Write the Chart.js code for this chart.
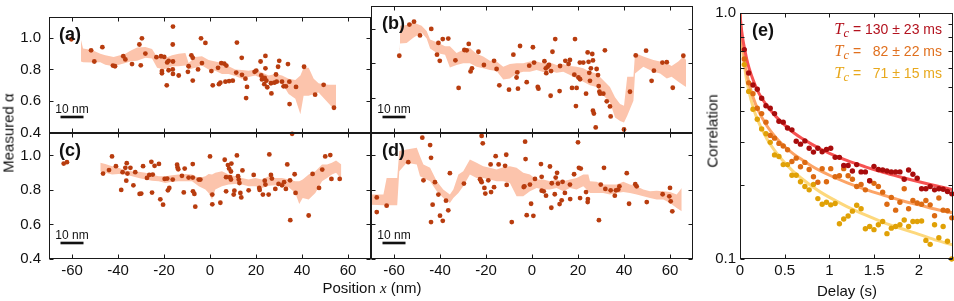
<!DOCTYPE html>
<html>
<head>
<meta charset="utf-8">
<script src="https://cdn.jsdelivr.net/npm/chart.js@4.4.1/dist/chart.umd.min.js"></script>
<style>
  body { margin: 0; background: #fff; }
  #fig { position: relative; width: 954px; height: 301px; overflow: hidden; font-family: "Liberation Sans", Arial, sans-serif; color: #111; }
  #fig canvas { position: absolute; left: 0; top: 0; }
  .lbl { position: absolute; font-size: 15px; white-space: nowrap; transform: translate(-50%, -50%); }
  .rot { transform: translate(-50%, -50%) rotate(-90deg); }
  .math { font-family: "Liberation Serif", "DejaVu Serif", serif; font-style: italic; }
  #legend { position: absolute; right: 12px; top: 18px; text-align: right; font-size: 14px; line-height: 21px; white-space: nowrap; }
  #legend .tc { font-size: 16.5px; }
  #legend sub { font-size: 12.5px; line-height: 0; vertical-align: -3px; }
</style>
</head>
<body>
<div id="fig">
  <canvas id="pa" width="954" height="301"></canvas>
  <canvas id="pb" width="954" height="301"></canvas>
  <canvas id="pc" width="954" height="301"></canvas>
  <canvas id="pd" width="954" height="301"></canvas>
  <canvas id="pe" width="954" height="301"></canvas>
  <div class="lbl rot" style="left:8px; top:133px">Measured α</div>
  <div class="lbl" style="left:372px; top:288px">Position <span class="math">x</span> (nm)</div>
  <div class="lbl rot" style="left:712px; top:131px">Correlation</div>
  <div class="lbl" style="left:847px; top:290px">Delay (s)</div>
  <div id="legend">
    <div style="color:#b3121e"><span class="math tc">T<sub>c</sub></span> = 130 ± 23 ms</div>
    <div style="color:#e0701e"><span class="math tc">T<sub>c</sub></span> = &#8199;82 ± 22 ms</div>
    <div style="color:#e8a81c"><span class="math tc">T<sub>c</sub></span> = &#8199;71 ± 15 ms</div>
  </div>
</div>
<script>
// tick values
const posTicks = [-60, -40, -20, 0, 20, 40, 60];
const alphaTicks = [0.4, 0.6, 0.8, 1.0];
const delayTicks = [0, 0.5, 1, 1.5, 2];
const corrTicks = [0.1, 0.2, 0.3, 0.4, 0.5, 0.6, 0.7, 0.8, 0.9, 1.0];

// (a)
const aX = [-60.3,-51.7,-50.3,-46.8,-42.2,-41.3,-37.7,-36.8,-33.9,-30.7,-29.6,-30.1,-28.1,-23.3,-21.3,-19.9,-20.9,-20.9,-18.8,-18.6,-18.0,-16.1,-16.2,-16.1,-16.2,-16.1,-18.0,-13.6,-9.3,-9.6,-8.1,-7.5,-7.5,-5.2,-3.9,-2.0,-3.5,0.6,1.2,3.5,4.9,6.2,7.1,3.9,4.5,6.7,8.3,9.9,11.7,11.4,13.8,13.9,15.4,16.1,15.7,19.4,20.1,22.0,22.3,22.6,23.6,24.1,24.1,23.8,24.5,24.9,26.7,26.5,28.0,28.7,29.0,29.6,30.1,31.3,32.0,33.0,33.9,34.5,34.6,35.7,37.4,40.9,45.7,49.4,53.9];
const aY = [0.99,0.92,0.85,0.94,0.824,0.82,0.883,0.863,0.834,0.957,0.996,0.826,0.90,0.877,0.883,0.879,0.79,0.776,0.70,0.844,0.854,1.07,0.957,0.85,0.80,0.772,0.795,0.762,0.82,0.785,0.889,0.873,0.73,0.80,0.996,0.967,0.84,0.79,0.70,0.81,0.84,0.836,0.824,0.707,0.717,0.723,0.727,0.729,0.969,0.78,0.873,0.766,0.742,0.69,0.62,0.785,0.793,0.85,0.762,0.737,0.707,0.885,0.807,0.746,0.729,0.688,0.649,0.713,0.717,0.768,0.723,0.817,0.854,0.723,0.694,0.694,0.834,0.723,0.582,0.395,0.69,0.817,0.641,0.703,0.559];
const aBandX = [-56.1,-55.2,-51.3,-47.7,-45.5,-41.9,-36.8,-34.6,-31.7,-28.1,-25.2,-23.0,-20.1,-16.5,-13.6,-10.7,-9.3,-6.4,-3.5,-0.6,2.3,5.2,8.1,11.0,13.9,16.8,19.7,22.6,25.5,28.4,31.3,34.2,37.1,39.3,40.7,42.9,45.1,47.2,49.4,51.6,53.8,54.8];
const aBandHi = [0.986,0.932,0.922,0.899,0.889,0.879,0.899,0.918,0.938,0.941,0.928,0.879,0.869,0.889,0.899,0.904,0.84,0.879,0.883,0.86,0.85,0.84,0.82,0.80,0.797,0.791,0.80,0.781,0.762,0.772,0.762,0.742,0.733,0.762,0.81,0.81,0.742,0.713,0.707,0.703,0.703,0.703];
const aBandLo = [0.85,0.846,0.844,0.846,0.83,0.82,0.84,0.85,0.854,0.873,0.869,0.81,0.80,0.82,0.82,0.824,0.80,0.81,0.824,0.80,0.791,0.772,0.772,0.758,0.742,0.752,0.762,0.742,0.723,0.717,0.713,0.645,0.616,0.518,0.635,0.635,0.645,0.655,0.621,0.586,0.551,0.551];

// (b)
const bX = [-57.7,-53.3,-51.3,-48.7,-43.8,-40.7,-38.8,-36.4,-41.3,-40.1,-33.3,-31.9,-29.4,-28.4,-27.5,-26.7,-26.1,-23.3,-20.9,-16.5,-15.4,-14.2,-10.0,-8.1,-6.7,-6.4,-6.1,-5.2,-2.3,-1.2,0.4,0.9,2.5,2.8,5.4,6.0,6.2,6.8,7.4,8.1,8.9,8.3,10.1,12.0,12.2,14.5,15.9,16.5,17.4,18.7,18.4,19.1,19.4,20.2,20.8,20.9,22.3,23.5,24.2,24.6,24.9,25.2,25.6,26.2,26.5,26.5,26.9,27.7,28.1,28.7,29.0,29.3,29.6,31.0,31.7,32.5,33.9,34.2,40.0,42.6,45.1,49.6,52.0,53.0,56.7,58.6,61.2,65.8];
const bY = [0.844,1.023,1.04,0.961,0.998,0.918,0.94,0.943,0.85,0.815,0.818,0.659,0.877,0.875,0.912,0.754,0.772,0.867,0.791,0.815,0.768,0.674,0.649,0.85,0.719,0.748,0.655,0.90,0.692,0.787,0.893,0.805,0.665,0.655,0.813,0.772,0.744,0.781,0.791,0.614,0.867,0.756,0.94,0.641,0.785,0.815,0.797,0.82,0.659,0.94,0.735,0.555,0.659,0.719,0.805,0.709,0.805,0.626,0.863,0.809,0.746,0.70,0.772,0.854,0.817,0.528,0.512,0.432,0.768,0.733,0.67,0.637,0.626,0.626,0.875,0.582,0.553,0.495,0.42,0.637,0.846,0.873,0.70,0.758,0.805,0.807,0.66,0.844];
const bBandX = [-57.7,-57.4,-54.5,-51.6,-48.0,-45.8,-44.3,-41.4,-37.8,-35.7,-32.8,-29.9,-27.0,-24.1,-21.2,-18.3,-15.4,-12.5,-9.6,-6.7,-3.8,-0.9,2.0,4.9,7.8,10.7,13.6,16.5,19.4,22.3,25.2,28.1,31.0,33.9,36.1,38.3,40.0,41.4,44.1,44.8,48.4,52.8,55.7,58.6,60.7,63.6,65.8,67.0];
const bBandHi = [0.889,1.016,1.021,1.035,1.016,0.986,0.938,0.922,0.899,0.899,0.86,0.879,0.889,0.856,0.84,0.815,0.811,0.781,0.797,0.801,0.801,0.811,0.811,0.801,0.805,0.791,0.797,0.785,0.781,0.772,0.752,0.742,0.703,0.664,0.606,0.567,0.557,0.723,0.723,0.86,0.84,0.82,0.811,0.801,0.785,0.811,0.84,0.82];
const bBandLo = [0.844,0.914,0.918,0.947,0.977,0.943,0.885,0.86,0.85,0.776,0.791,0.801,0.801,0.781,0.772,0.762,0.756,0.707,0.713,0.742,0.752,0.752,0.762,0.75,0.756,0.746,0.752,0.733,0.713,0.694,0.674,0.664,0.616,0.577,0.489,0.469,0.46,0.499,0.586,0.742,0.781,0.752,0.742,0.713,0.723,0.694,0.674,0.664];

// (c)
const cX = [-63.6,-62.2,-46.5,-43.9,-42.6,-40.9,-38.6,-38.0,-36.8,-36.2,-35.9,-36.4,-34.6,-33.3,-32.5,-30.6,-29.9,-29.1,-27.4,-26.4,-25.5,-25.2,-24.9,-24.1,-22.2,-21.6,-20.4,-19.7,-18.6,-18.3,-17.7,-16.2,-14.3,-14.1,-13.8,-12.2,-11.4,-11.0,-9.3,-7.5,-7.4,-7.5,-6.8,-6.4,-4.9,-4.2,0.0,1.0,1.0,4.5,6.4,7.0,7.0,7.8,8.3,8.7,9.1,9.3,9.1,10.3,10.6,11.7,12.2,12.5,12.8,13.2,13.6,14.1,16.8,19.0,21.4,21.6,23.0,23.8,24.1,25.5,25.8,26.5,26.9,28.4,29.8,31.3,32.2,33.0,33.6,34.8,34.9,36.8,37.2,42.9,44.6,47.4,48.8,50.1,52.3,52.8,56.4];
const cY = [0.953,0.961,0.895,0.915,0.994,0.938,0.80,0.903,0.928,0.955,0.895,0.854,0.928,0.827,0.903,0.777,0.779,0.938,0.87,0.887,0.963,0.785,0.889,0.94,0.951,0.746,0.715,0.864,0.866,0.798,0.812,0.86,0.946,0.93,0.92,0.882,0.786,0.924,0.872,0.95,0.792,0.872,0.777,0.703,0.86,0.86,0.994,0.773,0.717,0.726,0.975,0.874,0.792,0.944,0.924,0.874,0.907,0.953,0.86,0.773,0.796,1.0,0.88,0.86,0.84,0.783,0.757,0.913,0.798,0.887,0.812,0.80,0.773,0.854,0.831,0.773,1.006,0.887,0.866,0.806,0.835,0.827,0.845,0.806,0.948,0.856,0.625,0.891,0.783,0.652,0.893,0.812,0.918,0.994,1.002,0.864,0.864];
const cBandX = [-47.7,-45.5,-42.6,-39.7,-36.8,-33.9,-31.0,-28.1,-25.2,-22.3,-19.4,-16.5,-13.6,-10.7,-7.8,-4.9,-2.0,-0.6,0.9,2.3,5.2,8.1,11.0,13.9,16.8,19.7,22.6,25.5,28.4,31.3,34.2,37.1,38.8,40.3,42.9,45.8,48.7,50.9,53.0,54.8,57.1];
const cBandHi = [0.957,0.951,0.938,0.928,0.913,0.909,0.905,0.899,0.889,0.88,0.88,0.885,0.889,0.893,0.889,0.87,0.88,0.893,0.889,0.899,0.909,0.889,0.88,0.87,0.86,0.87,0.86,0.88,0.87,0.87,0.86,0.85,0.85,0.86,0.889,0.909,0.948,0.948,0.957,0.971,0.948];
const cBandLo = [0.909,0.899,0.889,0.893,0.889,0.88,0.87,0.86,0.854,0.85,0.841,0.847,0.85,0.85,0.85,0.821,0.802,0.783,0.744,0.802,0.821,0.831,0.835,0.831,0.821,0.821,0.812,0.825,0.827,0.821,0.816,0.783,0.718,0.753,0.744,0.783,0.85,0.87,0.889,0.899,0.864];

// (d)
const dX = [-67.5,-67.5,-63.2,-53.8,-47.7,-47.2,-44.3,-43.9,-43.9,-43.2,-42.2,-40.7,-40.0,-38.8,-37.4,-36.4,-35.7,-29.6,-22.6,-22.2,-21.9,-21.4,-21.9,-20.7,-20.3,-19.0,-18.0,-17.8,-16.5,-15.8,-14.5,-11.7,-11.2,-11.0,-8.8,-3.6,-3.3,-3.0,-2.8,-2.3,-0.9,-0.4,0.6,1.3,3.9,4.2,4.2,5.1,6.1,7.8,8.6,8.4,9.9,10.3,10.9,11.3,12.0,12.9,13.3,14.3,16.5,16.6,18.3,20.0,20.4,21.2,20.9,23.5,24.3,24.2,29.1,29.9,31.3,31.9,34.2,36.0,36.5,37.5,38.0,41.2,42.2,44.9,45.5,49.9,56.8,59.7,60.0,60.3,61.0];
const dY = [0.757,0.672,0.709,0.961,1.103,0.856,1.06,0.986,0.614,0.715,0.845,0.773,0.651,0.621,0.738,0.682,0.897,0.837,0.862,0.854,1.113,1.07,0.845,0.812,0.779,0.856,0.948,0.788,0.816,0.996,0.948,0.94,1.004,0.829,0.614,0.817,0.821,1.08,0.979,0.654,0.831,0.72,0.65,0.864,0.95,0.876,0.796,0.792,0.767,0.936,0.839,0.697,0.775,0.872,0.899,0.837,0.718,0.74,0.847,0.783,0.831,0.747,0.891,1.076,0.928,0.924,0.753,0.788,0.747,0.73,0.625,0.831,0.928,0.806,0.798,0.767,0.798,0.802,0.821,0.897,0.72,0.833,0.821,0.73,0.775,0.763,0.812,0.734,0.676];
const dBandX = [-70,-64.6,-63.2,-58.6,-57.7,-54.5,-50.1,-48.7,-47.2,-44.3,-41.4,-38.6,-35.7,-34.2,-32.0,-29.9,-27.0,-24.1,-21.2,-18.3,-15.4,-12.5,-9.6,-6.7,-3.8,-0.9,2.0,4.9,7.8,10.7,13.6,16.5,19.4,22.3,24.5,25.2,28.1,31.0,33.9,36.8,39.7,42.6,45.5,48.4,51.3,54.2,57.1,60.0,62.9,65.1];
const dBandHi = [0.773,0.773,0.87,0.87,1.025,1.035,1.045,0.996,0.948,0.928,0.85,0.802,0.773,0.802,0.889,0.909,0.977,0.957,0.938,0.928,0.918,0.932,0.938,0.928,0.899,0.889,0.86,0.86,0.85,0.86,0.85,0.86,0.87,0.889,0.889,0.85,0.847,0.831,0.831,0.831,0.847,0.831,0.821,0.802,0.792,0.796,0.792,0.788,0.773,0.812];
const dBandLo = [0.715,0.711,0.711,0.711,0.909,0.957,0.948,0.88,0.87,0.85,0.792,0.753,0.724,0.753,0.783,0.821,0.889,0.87,0.87,0.86,0.85,0.85,0.841,0.763,0.763,0.792,0.812,0.802,0.802,0.812,0.792,0.812,0.802,0.821,0.792,0.783,0.783,0.783,0.773,0.783,0.788,0.783,0.773,0.763,0.753,0.744,0.744,0.724,0.695,0.676];

// (e) correlation vs delay
const delays = [0.048,0.097,0.145,0.193,0.242,0.290,0.338,0.386,0.435,0.483,0.531,0.580,0.628,0.676,0.725,0.773,0.821,0.870,0.918,0.966,1.014,1.063,1.111,1.159,1.208,1.256,1.304,1.353,1.401,1.449,1.497,1.546,1.594,1.642,1.691,1.739,1.787,1.835,1.884,1.932,1.980,2.029,2.077,2.125,2.174,2.222,2.270,2.318,2.367];
const corr130 = [0.71,0.57,0.51,0.49,0.45,0.42,0.41,0.39,0.363,0.36,0.341,0.335,0.301,0.293,0.302,0.282,0.272,0.282,0.273,0.279,0.282,0.259,0.259,0.240,0.240,0.228,0.242,0.226,0.226,0.208,0.238,0.231,0.23,0.228,0.226,0.226,0.226,0.211,0.23,0.221,0.213,0.193,0.193,0.197,0.191,0.193,0.192,0.188,0.184];
const corr82 = [0.65,0.52,0.47,0.41,0.39,0.36,0.318,0.31,0.295,0.288,0.278,0.249,0.257,0.237,0.247,0.231,0.216,0.205,0.233,0.206,0.233,0.216,0.218,0.233,0.218,0.211,0.197,0.201,0.191,0.208,0.203,0.197,0.187,0.167,0.178,0.158,0.170,0.193,0.16,0.173,0.169,0.167,0.173,0.166,0.15,0.177,0.158,0.157,0.147];
const corr71 = [0.617,0.48,0.406,0.37,0.338,0.323,0.298,0.265,0.261,0.242,0.242,0.219,0.219,0.206,0.197,0.191,0.201,0.176,0.167,0.170,0.166,0.168,0.139,0.1455,0.1496,0.1565,0.1654,0.160,0.1328,0.1356,0.1316,0.1377,0.142,0.1268,0.1335,0.1356,0.1377,0.144,0.1356,0.142,0.142,0.1428,0.119,0.1147,0.1377,0.122,0.1356,0.118,0.1];
const fitDelay = [0,0.01,0.02,0.035,0.05,0.075,0.1,0.15,0.2,0.3,0.4,0.5,0.6,0.7,0.8,0.9,1.0,1.2,1.4,1.6,1.8,2.0,2.2,2.38];
const fit130 = [1,0.9,0.84,0.77,0.72,0.65,0.6,0.53,0.48,0.42,0.38,0.35,0.326,0.308,0.293,0.28,0.269,0.251,0.237,0.225,0.215,0.206,0.198,0.191];
const fit82 = [1,0.87,0.79,0.71,0.65,0.57,0.52,0.45,0.405,0.348,0.312,0.286,0.267,0.252,0.239,0.228,0.219,0.204,0.192,0.182,0.173,0.166,0.159,0.154];
const fit71 = [1,0.85,0.76,0.67,0.61,0.53,0.48,0.41,0.365,0.308,0.272,0.246,0.226,0.211,0.198,0.187,0.178,0.163,0.151,0.141,0.133,0.126,0.119,0.114];

// scale bar, in nm
const barStart = -65;
const barLength = 10;

const W = 954, H = 301;
const dotColor = '#b83c0e';
const bandColor = '#fcc4ac';

Chart.defaults.font.family = '"Liberation Sans", Arial, sans-serif';
Chart.defaults.color = '#111';

function pts(xs, ys) {
    return xs.map((x, i) => ({ x: x, y: ys[i] }));
}

// frame, inward ticks on all sides, panel letter and scale bar
const deco = {
    id: 'deco',
    afterDatasetsDraw(chart, args, o) {
        const ctx = chart.ctx;
        const a = chart.chartArea;
        const xs = chart.scales.x, ys = chart.scales.y;
        const L = Math.round(a.left) + 0.5, T = Math.round(a.top) + 0.5;
        const R = Math.round(a.right) - 0.5, B = Math.round(a.bottom) - 0.5;
        ctx.save();
        ctx.strokeStyle = '#1a1a1a';
        ctx.lineWidth = 1;
        ctx.beginPath();
        xs.ticks.forEach(t => {
            const p = Math.round(xs.getPixelForValue(t.value)) + 0.5;
            ctx.moveTo(p, T); ctx.lineTo(p, T + 4);
            ctx.moveTo(p, B); ctx.lineTo(p, B - 4);
        });
        ys.ticks.forEach(t => {
            const p = Math.round(ys.getPixelForValue(t.value)) + 0.5;
            ctx.moveTo(L, p); ctx.lineTo(L + 4, p);
            ctx.moveTo(R, p); ctx.lineTo(R - 4, p);
        });
        ctx.stroke();
        ctx.strokeRect(L, T, R - L, B - T);

        ctx.fillStyle = '#111';
        ctx.font = 'bold 18px "Liberation Sans", Arial, sans-serif';
        ctx.textAlign = 'left';
        ctx.textBaseline = 'middle';
        ctx.fillText(o.label, a.left + o.dx, a.top + 18.5);

        if (o.bar) {
            const x0 = xs.getPixelForValue(barStart);
            const x1 = xs.getPixelForValue(barStart + barLength);
            ctx.fillRect(x0, a.bottom - 17.3, x1 - x0, 2.6);
            ctx.font = '12px "Liberation Sans", Arial, sans-serif';
            ctx.textAlign = 'center';
            ctx.fillText('10 nm', (x0 + x1) / 2, a.bottom - 23.5);
        }
        ctx.restore();
    }
};

function axis(opt, dir) {
    const size = opt.labels ? (dir === 'x' ? 30 : 40) : 0;
    return {
        type: opt.type || 'linear',
        min: opt.min,
        max: opt.max,
        bounds: 'data',
        grid: { display: false, drawTicks: false },
        border: { display: false },
        ticks: {
            display: !!opt.labels,
            autoSkip: false,
            maxRotation: 0,
            padding: dir === 'x' ? 3 : (opt.pad || 8),
            font: { size: 15 },
            callback: opt.fmt
        },
        afterBuildTicks: s => { s.ticks = opt.ticks.map(v => ({ value: v })); },
        afterFit: s => { if (dir === 'x') s.height = size; else s.width = size; }
    };
}

function panel(id, box, datasets, xOpt, yOpt, decoOpt) {
    const yw = yOpt.labels ? 40 : 0;
    const xh = xOpt.labels ? 30 : 0;
    return new Chart(document.getElementById(id), {
        type: 'line',
        data: { datasets: datasets },
        options: {
            responsive: false,
            animation: false,
            events: [],
            layout: {
                autoPadding: false,
                padding: { left: box.left - yw, top: box.top, right: W - box.right, bottom: H - box.bottom - xh }
            },
            plugins: { legend: { display: false }, tooltip: { enabled: false }, deco: decoOpt },
            scales: { x: axis(xOpt, 'x'), y: axis(yOpt, 'y') }
        },
        plugins: [deco]
    });
}

function wirePanel(px, py, bx, hi, lo) {
    return [
        { data: pts(px, py), showLine: false, pointRadius: 2.4, pointBorderWidth: 0, pointBackgroundColor: dotColor, clip: 4 },
        { data: pts(bx, hi), borderColor: 'rgba(0,0,0,0)', borderWidth: 0, pointRadius: 0, fill: '+1', backgroundColor: bandColor },
        { data: pts(bx, lo), borderColor: 'rgba(0,0,0,0)', borderWidth: 0, pointRadius: 0, fill: false }
    ];
}

const fmtPos = v => String(v);
const fmtAlpha = v => v.toFixed(1);
const xPos = { min: -70, max: 70, ticks: posTicks, fmt: fmtPos };
const yAlpha = { min: 0.4, max: 1.13, ticks: alphaTicks, fmt: fmtAlpha };

panel('pa', { left: 49, right: 371, top: 6, bottom: 133 }, wirePanel(aX, aY, aBandX, aBandHi, aBandLo),
    xPos, Object.assign({ labels: true }, yAlpha), { label: '(a)', dx: 10, bar: true });
panel('pb', { left: 371, right: 693, top: 6, bottom: 133 }, wirePanel(bX, bY, bBandX, bBandHi, bBandLo),
    xPos, yAlpha, { label: '(b)', dx: 11, bar: true });
panel('pc', { left: 49, right: 371, top: 133, bottom: 259 }, wirePanel(cX, cY, cBandX, cBandHi, cBandLo),
    Object.assign({ labels: true }, xPos), Object.assign({ labels: true }, yAlpha), { label: '(c)', dx: 10, bar: true });
panel('pd', { left: 371, right: 693, top: 133, bottom: 259 }, wirePanel(dX, dY, dBandX, dBandHi, dBandLo),
    Object.assign({ labels: true }, xPos), yAlpha, { label: '(d)', dx: 11, bar: true });

const dot = (ys, c) => ({ data: pts(delays, ys), showLine: false, pointRadius: 2.7, pointBorderWidth: 0, pointBackgroundColor: c, clip: 4 });
const fit = (ys, c) => ({ data: pts(fitDelay, ys), borderColor: c, borderWidth: 3, pointRadius: 0, fill: false, cubicInterpolationMode: 'monotone' });

panel('pe', { left: 740, right: 953, top: 6, bottom: 259 }, [
    dot(corr130, '#a80c0c'),
    dot(corr82, '#dc6a12'),
    dot(corr71, '#e0a106'),
    fit(fit130, '#f65252'),
    fit(fit82, '#fca466'),
    fit(fit71, '#fdd87c')
], { labels: true, min: 0, max: 2.38, ticks: delayTicks, fmt: v => String(v) },
   { labels: true, type: 'logarithmic', min: 0.1, max: 1, ticks: corrTicks, pad: 4,
     fmt: v => (v === 1 ? '1.0' : v === 0.1 ? '0.1' : '') },
   { label: '(e)', dx: 12, bar: false });
</script>
</body>
</html>
